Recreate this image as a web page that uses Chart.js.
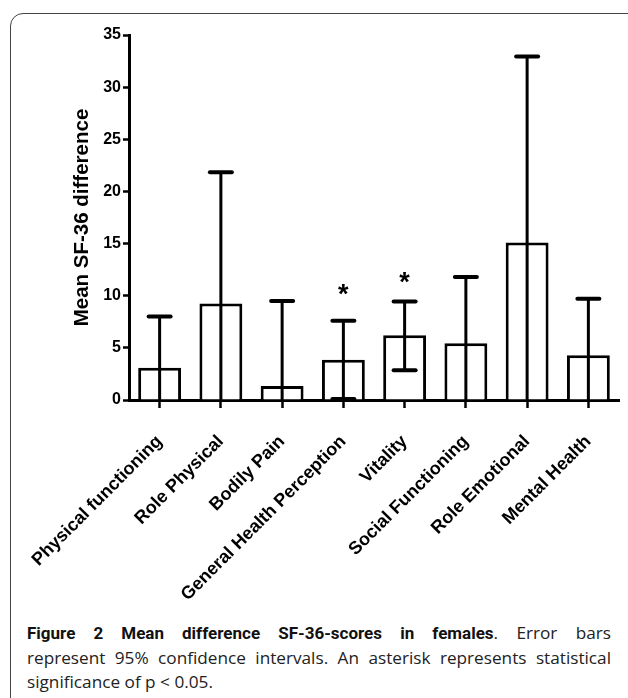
<!DOCTYPE html>
<html>
<head>
<meta charset="utf-8">
<script src="https://cdn.jsdelivr.net/npm/chart.js@4.4.0/dist/chart.umd.min.js"></script>
<style>
  html, body { margin:0; padding:0; background:#fff; }
  body { width:628px; height:698px; position:relative; overflow:hidden; }
  #frame { position:absolute; left:10px; top:13px; width:640px; height:720px;
           border:1.5px solid #444; border-radius:13px; box-sizing:border-box; }
  #wrap { position:absolute; left:0; top:0; width:628px; height:600px; }
  #caption { position:absolute; left:27px; top:621px; width:584px;
             font-family:"Open Sans", sans-serif; font-size:17.2px;
             line-height:24.5px; color:#222; }
  #caption div { white-space:nowrap; }
  #caption .j { text-align:justify; text-align-last:justify; }
  #caption b { font-family: Roboto, "Open Sans", sans-serif; font-weight:700; font-size:17px; color:#111; }
</style>
</head>
<body>
<div id="frame"></div>
<div id="wrap"><canvas id="c" width="628" height="600"></canvas></div>
<div id="caption">
  <div class="j"><b>Figure 2 Mean difference SF-36-scores in females</b>. Error bars</div>
  <div class="j">represent 95% confidence intervals. An asterisk represents statistical</div>
  <div>significance of p &lt; 0.05.</div>
</div>
<script>
const categories = ["Physical functioning","Role Physical","Bodily Pain","General Health Perception","Vitality","Social Functioning","Role Emotional","Mental Health"];
const meanDiff  = [3.1, 9.25, 1.35, 3.85, 6.2, 5.45, 15.1, 4.3];
const ciUpper   = [8.0, 21.85, 9.5, 7.6, 9.45, 11.8, 32.95, 9.7];
const ciLower   = [-1.8, -3.35, -6.8, 0.1, 2.85, -0.9, -2.75, -1.1];
const asteriskAt = [null, null, null, 10.7, 11.9, null, null, null];
const yTicks = [0, 5, 10, 15, 20, 25, 30, 35];

const FONT = "'Liberation Sans', Arial, sans-serif";

const errorBarPlugin = {
  id: 'errorBars',
  afterDatasetsDraw(chart) {
    const ctx = chart.ctx;
    const meta = chart.getDatasetMeta(0);
    const y = chart.scales.y;
    ctx.save();
    ctx.strokeStyle = '#000';
    meta.data.forEach((bar, i) => {
      const x = bar.x;
      const yTop = y.getPixelForValue(ciUpper[i]);
      const lowVal = Math.max(ciLower[i], y.min);
      const yLow = y.getPixelForValue(lowVal);
      ctx.lineWidth = 3;
      ctx.lineCap = 'butt';
      ctx.beginPath();
      ctx.moveTo(x, yTop);
      ctx.lineTo(x, yLow);
      ctx.stroke();
      ctx.lineWidth = 4;
      ctx.lineCap = 'round';
      ctx.beginPath();
      ctx.moveTo(x - 11, yTop); ctx.lineTo(x + 11, yTop);
      ctx.stroke();
      if (ciLower[i] >= y.min) {
        ctx.beginPath();
        ctx.moveTo(x - 11, yLow); ctx.lineTo(x + 11, yLow);
        ctx.stroke();
      }
      if (asteriskAt[i] !== null) {
        ctx.fillStyle = '#000';
        ctx.font = "bold 27px " + FONT;
        ctx.textAlign = 'center';
        ctx.textBaseline = 'alphabetic';
        ctx.fillText('*', x, y.getPixelForValue(asteriskAt[i]) + 15);
      }
    });
    ctx.restore();
  }
};

new Chart(document.getElementById('c'), {
  type: 'bar',
  data: {
    labels: categories,
    datasets: [{
      data: meanDiff,
      backgroundColor: '#fff',
      borderColor: '#000',
      borderWidth: 3,
      borderSkipped: 'start',
      barPercentage: 0.70,
      categoryPercentage: 1.0
    }]
  },
  options: {
    responsive: false,
    animation: false,
    events: [],
    layout: { autoPadding: false, padding: { top: 35, left: 0, right: 9, bottom: 0 } },
    plugins: { legend: { display: false }, tooltip: { enabled: false } },
    scales: {
      x: {
        afterFit(s) { s.height = 200; },
        grid: { display: true, drawOnChartArea: false, drawTicks: true, offset: false,
                tickLength: 8, tickWidth: 2.5, tickColor: '#000', color: '#000' },
        border: { display: true, color: '#000', width: 3 },
        ticks: { color: '#000', font: { family: FONT, size: 18, weight: 'bold' },
                 minRotation: 45, maxRotation: 45, padding: 23, autoSkip: false }
      },
      y: {
        min: 0, max: 35,
        afterFit(s) { s.width = 129; },
        afterBuildTicks(s) { s.ticks = yTicks.map(v => ({ value: v })); },
        grid: { display: true, drawOnChartArea: false, drawTicks: true,
                tickLength: 6, tickWidth: 2.5, tickColor: '#000', color: '#000' },
        border: { display: true, color: '#000', width: 3 },
        ticks: { color: '#000', font: { family: FONT, size: 16, weight: 'bold' }, padding: 2 },
        title: { display: true, text: 'Mean SF-36 difference', color: '#000',
                 font: { family: FONT, size: 20.5, weight: 'bold' }, padding: { top: 70, bottom: 0 } }
      }
    }
  },
  plugins: [errorBarPlugin]
});
</script>
</body>
</html>
